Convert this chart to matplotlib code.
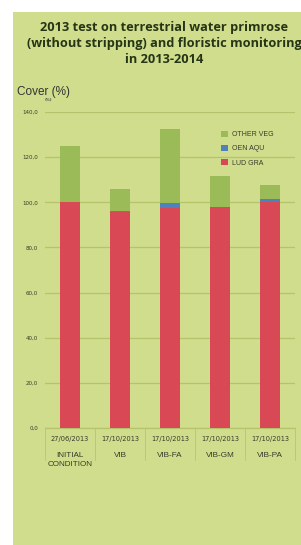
import matplotlib.pyplot as plt
import numpy as np

# data
dates = ["27/06/2013", "17/10/2013", "17/10/2013", "17/10/2013", "17/10/2013"]
groups = ["INITIAL\nCONDITION", "VIB", "VIB-FA", "VIB-GM", "VIB-PA"]
lud_gra = [100.0, 95.5, 97.5, 98.0, 100.0]
oen_aqu = [0.0, 0.5, 2.0, 0.0, 1.5]
other_veg = [25.0, 10.0, 33.0, 13.7, 6.2]
yticks = [0, 20, 40, 60, 80, 100, 120, 140]

W, H = 301, 545
fig = plt.figure(figsize=(W / 100, H / 100), dpi=100)
fig.patch.set_facecolor("white")

# green panel behind everything
bg = fig.add_axes([13 / W, 0, 1 - 13 / W, 1 - 12 / H], zorder=0)
bg.set_facecolor("#d0dd8c")
bg.set_xticks([])
bg.set_yticks([])
for s in bg.spines.values():
    s.set_visible(False)

ax = fig.add_axes([45 / W, (H - 428) / H, 250 / W, 316 / H], zorder=1)
ax.set_facecolor("none")

x = np.arange(len(groups))
bw = 0.4
c_red, c_blue, c_green = "#d84955", "#4f81bd", "#9bbb59"
b1 = ax.bar(x, lud_gra, bw, color=c_red, label="LUD GRA", zorder=3)
bot = np.array(lud_gra)
b2 = ax.bar(x, oen_aqu, bw, bottom=bot, color=c_blue, label="OEN AQU", zorder=3)
bot = bot + np.array(oen_aqu)
b3 = ax.bar(x, other_veg, bw, bottom=bot, color=c_green, label="OTHER VEG", zorder=3)

ax.set_xlim(-0.5, len(groups) - 0.5)
ax.set_ylim(0, 140)
ax.set_yticks(yticks)
ax.set_yticklabels([f"{v:.1f}".replace(".", ",") for v in yticks],
                   fontsize=4, color="#3a3a2a")
ax.tick_params(axis="y", length=0, pad=5)
ax.set_xticks([])
ax.yaxis.grid(True, color="#b5c46a", linewidth=0.9, zorder=0)
for s in ["top", "right", "left"]:
    ax.spines[s].set_visible(False)
ax.spines["bottom"].set_color("#b5c46a")
ax.spines["bottom"].set_linewidth(0.9)

# category axis: dates, names and separators
for i in range(len(groups)):
    ax.text(i, -3.5, dates[i], ha="center", va="top", fontsize=4.8,
            color="#3a3a2a", family="DejaVu Sans")
    ax.text(i, -10.5, groups[i], ha="center", va="top", fontsize=5.9,
            color="#3a3a2a", family="Liberation Sans", linespacing=1.45)
for i in range(len(groups) + 1):
    ax.plot([i - 0.5, i - 0.5], [0, -14], color="#b8c578", linewidth=0.6,
            clip_on=False)

leg = ax.legend(handles=[b3, b2, b1], loc="upper left",
                bbox_to_anchor=(0.68, 0.96), frameon=False,
                handlelength=0.9, handleheight=0.9, handletextpad=0.6,
                labelspacing=1.0, prop={"family": "Liberation Sans", "size": 5})
for t in leg.get_texts():
    t.set_color("#3a3a2a")

fig.text(164 / W, 1 - 43 / H,
         "2013 test on terrestrial water primrose\n(without stripping) and floristic monitoring\nin 2013-2014",
         ha="center", va="center", fontsize=9.2, fontweight="bold",
         family="Open Sans", color="#253516", linespacing=1.3)
fig.text(17 / W, 1 - 92 / H, "Cover (%)", ha="left", va="center",
         fontsize=8.5, family="Liberation Sans", color="#333333")
fig.text(48 / W, 1 - 100 / H, "(%)", ha="center", va="center",
         fontsize=2.8, fontweight="bold", color="#555555")

fig.savefig("out.png", dpi=100)
